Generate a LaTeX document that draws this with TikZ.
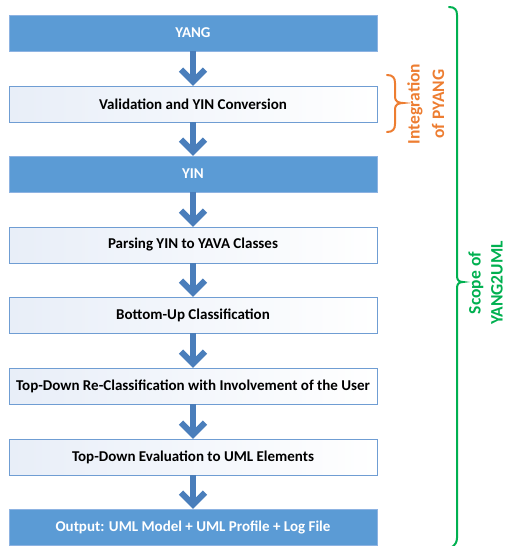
\documentclass[tikz,border=0pt]{standalone}
\usepackage{fontspec}
\setmainfont{Carlito}
\definecolor{boxblue}{HTML}{5B9BD5}
\definecolor{boxedge}{HTML}{8DB3E2}
\definecolor{lightedge}{HTML}{6F9DD3}
\definecolor{lightfill}{HTML}{E8EEF8}
\definecolor{arrowblue}{HTML}{4A7EBB}
\definecolor{bracegreen}{HTML}{00B050}
\definecolor{braceorange}{HTML}{ED7D31}
\tikzset{
  base/.style={minimum width=368pt, minimum height=36pt, inner sep=0pt, font=\bfseries\fontsize{15}{17}\selectfont, line width=0.8pt},
  darkbox/.style={base, fill=boxblue, draw=boxedge, text=white},
  lightbox/.style={base, left color=lightfill, right color=white, draw=lightedge, text=black},
  shaft/.style={draw=arrowblue, line width=6pt},
  chev/.style={draw=arrowblue, line width=6pt, line join=miter, line cap=butt},
  bracel/.style={line width=2pt, line cap=round},
  sidetext/.style={rotate=90, font=\bfseries\fontsize{17.5}{20}\selectfont, inner sep=0pt}
}
\newcommand\flowconn[2]{%
  \draw[shaft] (#1.south) -- ([yshift=4pt]#2.north);
  \draw[chev] ([xshift=-12pt,yshift=16pt]#2.north) -- ([yshift=4pt]#2.north) -- ([xshift=12pt,yshift=16pt]#2.north);
}
\begin{document}
\begin{tikzpicture}[x=1pt,y=-1pt]
\useasboundingbox (0,0) rectangle (507,546);
\node[darkbox]  (yang) at (193,33)  {YANG};
\node[lightbox] (val)  at (193,104) {Validation and YIN Conversion};
\node[darkbox]  (yin)  at (193,174) {YIN};
\node[lightbox] (pars) at (193,245) {Parsing YIN to YAVA Classes};
\node[lightbox] (bot)  at (193,315) {Bottom-Up Classification};
\node[lightbox] (top)  at (193,386) {Top-Down Re-Classification with Involvement of the User};
\node[lightbox] (eval) at (193,457) {Top-Down Evaluation to UML Elements};
\node[darkbox]  (out)  at (193,527) {Output: UML Model + UML Profile + Log File};
\flowconn{yang}{val}
\flowconn{val}{yin}
\flowconn{yin}{pars}
\flowconn{pars}{bot}
\flowconn{bot}{top}
\flowconn{top}{eval}
\flowconn{eval}{out}
% orange brace
\draw[bracel, draw=braceorange] (387,75) .. controls (393,75) and (395,78) .. (395,83) -- (395,97)
  .. controls (395,101) and (398,103) .. (403,103)
  .. controls (398,103) and (395,105) .. (395,109) -- (395,124)
  .. controls (395,129) and (393,132) .. (387,132);
\node[sidetext, text=braceorange] (integ) at (415,104) {Integration};
\node[sidetext, text=braceorange] (ofp) at (438,104) {of PYANG};
% green brace
\draw[bracel, draw=bracegreen] (449,7) .. controls (455,7) and (457,10) .. (457,15) -- (457,276)
  .. controls (457,280) and (459,282) .. (463,282)
  .. controls (459,282) and (457,284) .. (457,288) -- (457,538)
  .. controls (457,542) and (455,545) .. (452,547);
\node[sidetext, text=bracegreen] (scope) at (476,283) {Scope of};
\node[sidetext, text=bracegreen] (y2u) at (497,283) {YANG2UML};
\end{tikzpicture}
\end{document}
